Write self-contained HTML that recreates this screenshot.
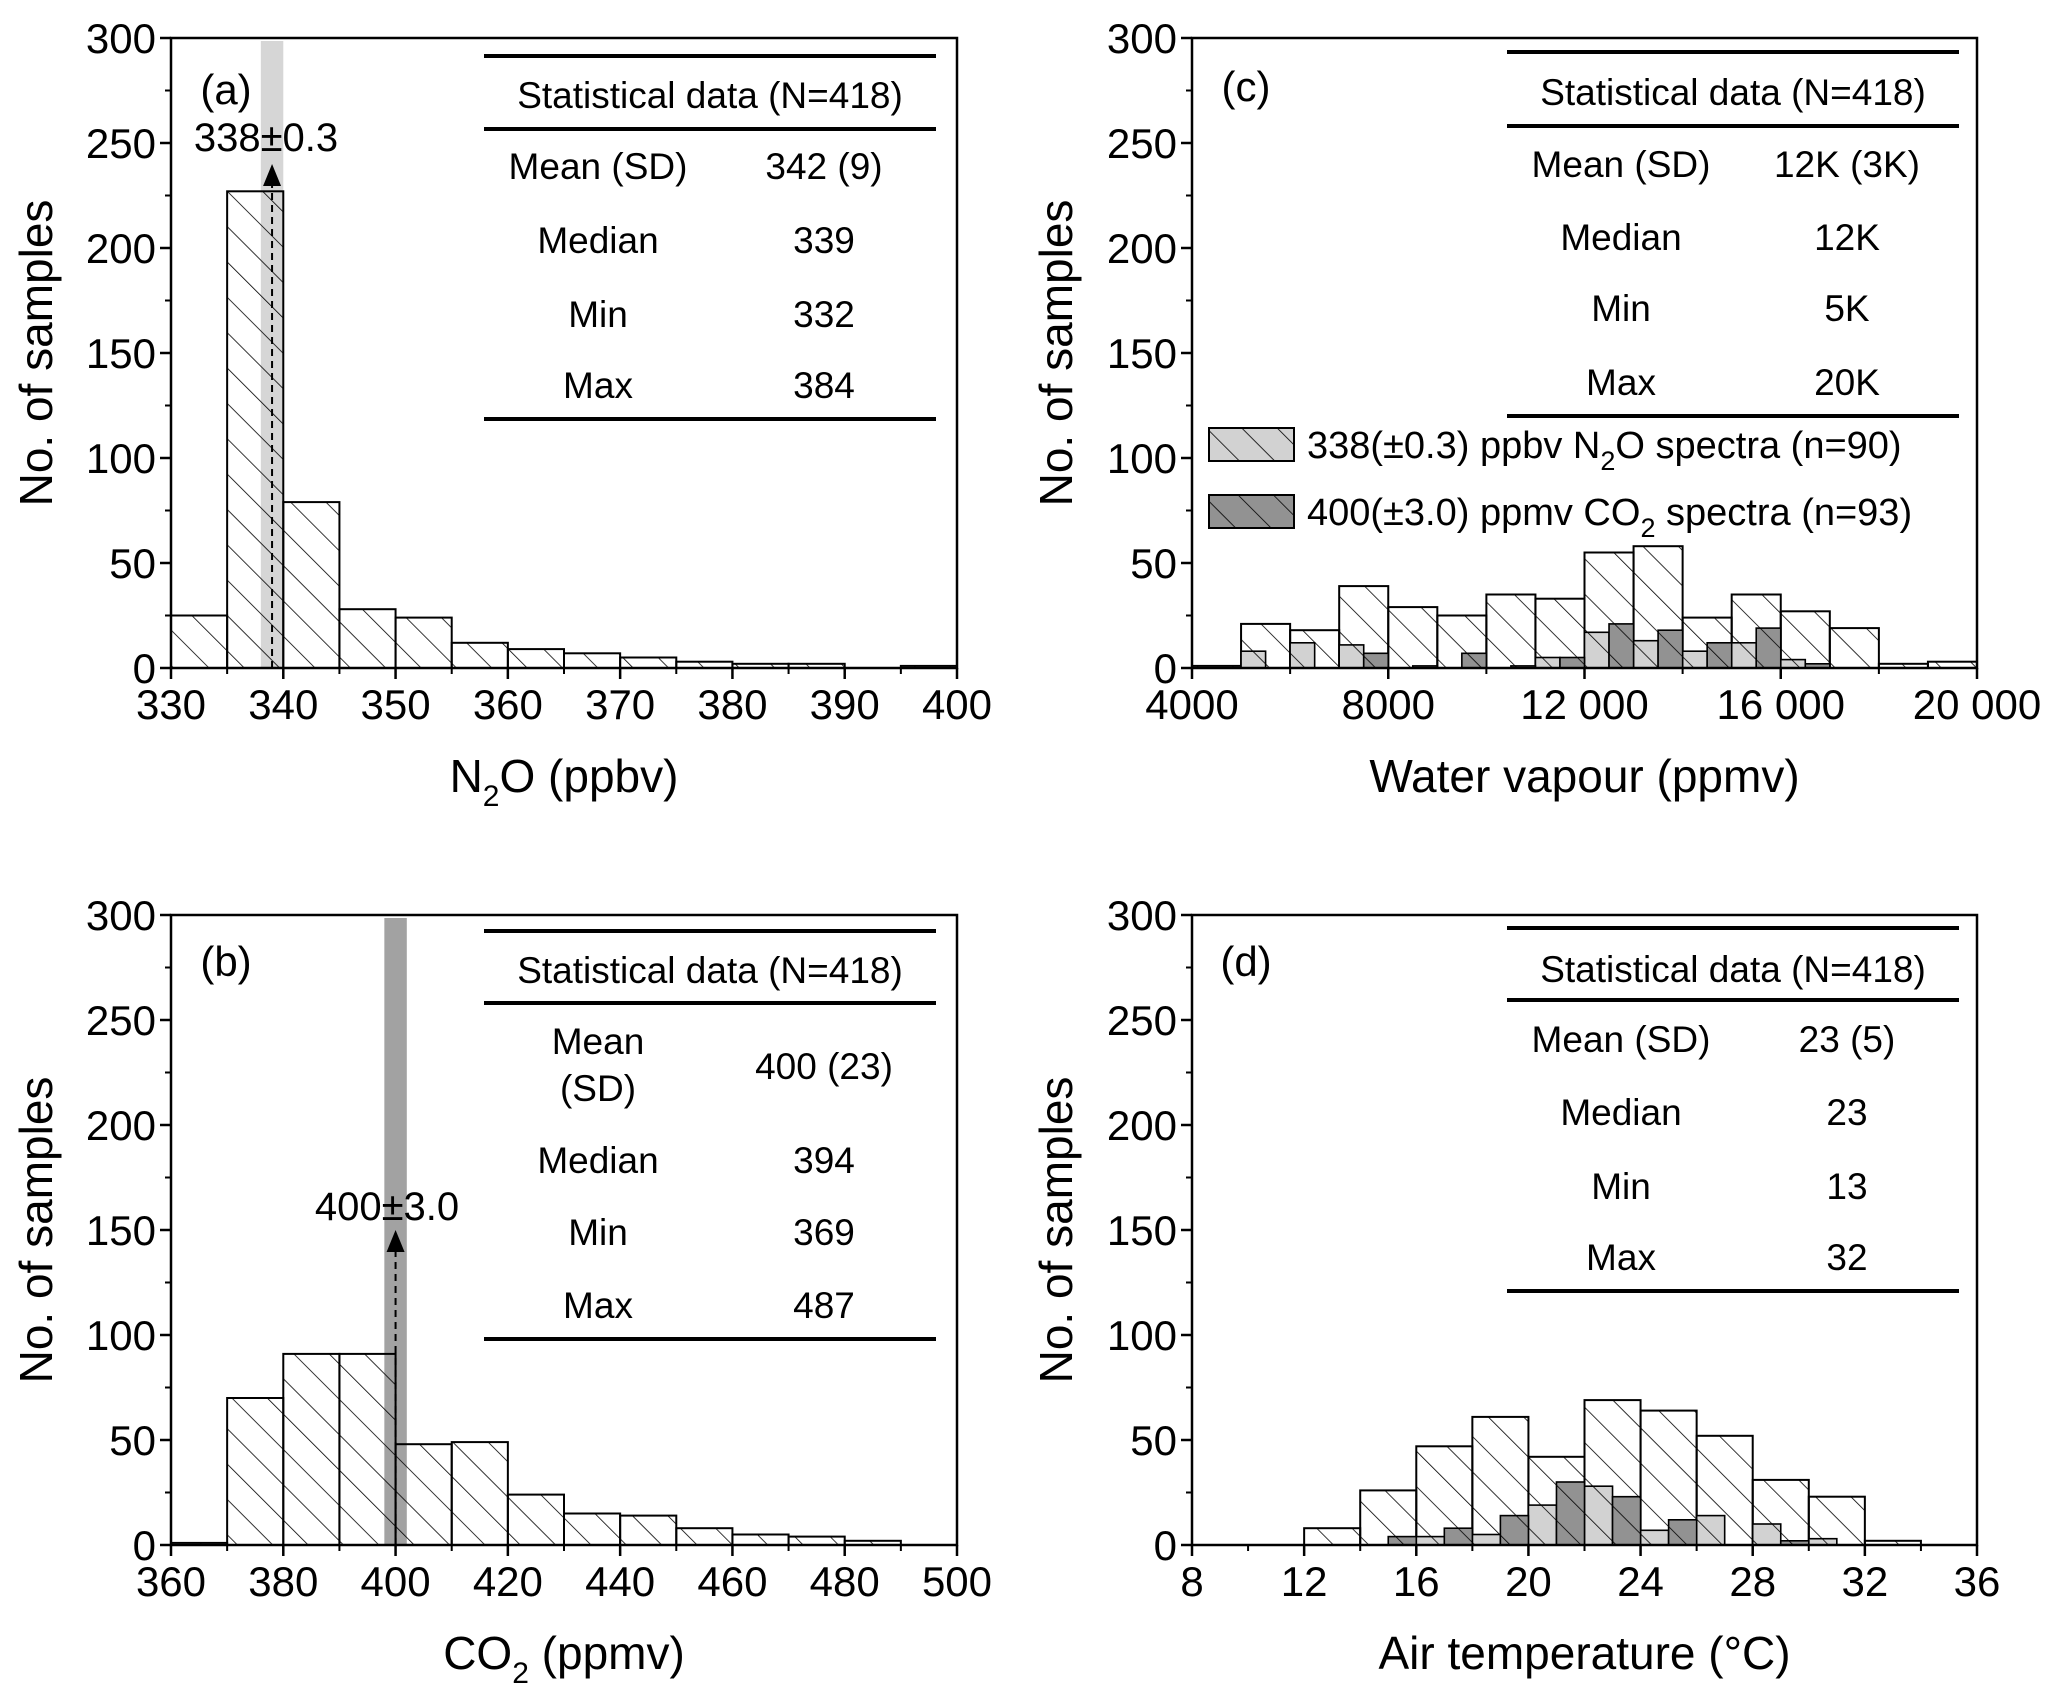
<!DOCTYPE html>
<html><head><meta charset="utf-8">
<style>
html,body{margin:0;padding:0;background:#fff;}
svg{display:block;font-family:"Liberation Sans",Arial,sans-serif;}
</style></head>
<body>
<svg id="fig" width="2067" height="1703" viewBox="0 0 2067 1703" xmlns="http://www.w3.org/2000/svg">
<defs>
<pattern id="hatch" patternUnits="userSpaceOnUse" width="25" height="25" patternTransform="rotate(-45)">
<line x1="0" y1="0" x2="0" y2="25" stroke="#000" stroke-width="1.6"/>
</pattern>
</defs>
</svg>
<script>
// ---- Panel (a) N2O ----
const n2oBinStart = 330, n2oBinWidth = 5;
const n2oCounts = [25, 227, 79, 28, 24, 12, 9, 7, 5, 3, 2, 2, 0, 1];
const n2oTicks = [330, 340, 350, 360, 370, 380, 390, 400];
// ---- Panel (b) CO2 ----
const co2BinStart = 360, co2BinWidth = 10;
const co2Counts = [1, 70, 91, 91, 48, 49, 24, 15, 14, 8, 5, 4, 2, 0];
const co2Ticks = [360, 380, 400, 420, 440, 460, 480, 500];
// ---- Panel (c) water vapour ----
const wvBinStart = 4000, wvBinWidth = 1000;
const wvCounts = [1, 21, 18, 39, 29, 25, 35, 33, 55, 58, 24, 35, 27, 19, 2, 3];
const wvN2O = [0, 8, 12, 11, 0, 0, 0, 5, 17, 13, 8, 12, 4, 0, 0, 0];
const wvCO2 = [0, 0, 0, 7, 1, 7, 1, 5, 21, 18, 12, 19, 2, 0, 0, 0];
const wvTicks = [4000, 8000, 12000, 16000, 20000];
const wvTickLabels = ["4000", "8000", "12 000", "16 000", "20 000"];
// ---- Panel (d) air temperature ----
const atBinStart = 8, atBinWidth = 2;
const atCounts = [0, 0, 8, 26, 47, 61, 42, 69, 64, 52, 31, 23, 2, 0];
const atN2O = [0, 0, 0, 0, 4, 5, 19, 28, 7, 14, 10, 3, 0, 0];
const atCO2 = [0, 0, 0, 4, 8, 14, 30, 23, 12, 0, 2, 0, 0, 0];
const atTicks = [8, 12, 16, 20, 24, 28, 32, 36];
const yTicks = [0, 50, 100, 150, 200, 250, 300];

const NS = "http://www.w3.org/2000/svg";
const svg = document.getElementById('fig');
function mk(tag, attrs, parent, text) {
  const e = document.createElementNS(NS, tag);
  for (const k in attrs) e.setAttribute(k, attrs[k]);
  if (text !== undefined) e.textContent = text;
  (parent || svg).appendChild(e);
  return e;
}

function panel(cfg) {
  const g = mk('g', {});
  
  
  const L = cfg.L, R = cfg.R, T = cfg.T, B = cfg.B;
  const xs = v => L + (v - cfg.x0) / (cfg.x1 - cfg.x0) * (R - L);
  const ys = v => B - v / 300 * (B - T);
  if (cfg.band) {
    const b = mk('rect', {x: xs(cfg.band[0]), y: T + 3, width: xs(cfg.band[1]) - xs(cfg.band[0]), height: B - T - 3, fill: cfg.band[2]}, g);
    
    
  }
  cfg.counts.forEach((c, i) => {
    if (c <= 0) return;
    const x = xs(cfg.bs + i * cfg.bw), w = xs(cfg.bs + (i + 1) * cfg.bw) - x;
    const y = ys(c), h = B - y;
    const r = mk('rect', {x: x, y: y, width: w, height: h, fill: 'url(#hatch)', stroke: '#000', 'stroke-width': 2}, g);
    
    
  });
  function sub(arr, off, color, nm) {
    arr.forEach((c, i) => {
      if (c <= 0) return;
      const x = xs(cfg.bs + i * cfg.bw + off), w = xs(cfg.bs + i * cfg.bw + off + cfg.bw / 2) - x;
      const y = ys(c), h = B - y;
      mk('rect', {x: x, y: y, width: w, height: h, fill: color}, g);
      const r = mk('rect', {x: x, y: y, width: w, height: h, fill: 'url(#hatch)', stroke: '#000', 'stroke-width': 1.6}, g);
      
      
    });
  }
  if (cfg.n2o) sub(cfg.n2o, 0, '#d2d2d2', 'n2o-subset');
  if (cfg.co2) sub(cfg.co2, cfg.bw / 2, '#929292', 'co2-subset');
  if (cfg.arrow) {
    const ax = xs(cfg.arrow[0]), tip = ys(cfg.arrow[1]);
    mk('line', {x1: ax, y1: B, x2: ax, y2: tip + 20, stroke: '#000', 'stroke-width': 2, 'stroke-dasharray': '7,5'}, g);
    mk('polygon', {points: `${ax},${tip} ${ax - 9},${tip + 22} ${ax + 9},${tip + 22}`, fill: '#000'}, g);
    const t = mk('text', {x: cfg.arrow[2], y: cfg.arrow[3], 'font-size': 40, 'text-anchor': 'middle'}, g, cfg.arrow[4]);
    
    
  }
  mk('rect', {x: L, y: T, width: R - L, height: B - T, fill: 'none', stroke: '#000', 'stroke-width': 2.5}, g);
  yTicks.forEach(v => {
    mk('line', {x1: L - 11, y1: ys(v), x2: L, y2: ys(v), stroke: '#000', 'stroke-width': 2.5}, g);
    if (v < 300) mk('line', {x1: L - 6, y1: ys(v + 25), x2: L, y2: ys(v + 25), stroke: '#000', 'stroke-width': 2}, g);
    const t = mk('text', {x: L - 15, y: ys(v) + 15, 'font-size': 42, 'text-anchor': 'end'}, g, String(v));
    
    
  });
  const step = cfg.ticks[1] - cfg.ticks[0];
  cfg.ticks.forEach((v, i) => {
    mk('line', {x1: xs(v), y1: B, x2: xs(v), y2: B + 11, stroke: '#000', 'stroke-width': 2.5}, g);
    if (i < cfg.ticks.length - 1) mk('line', {x1: xs(v + step / 2), y1: B, x2: xs(v + step / 2), y2: B + 6, stroke: '#000', 'stroke-width': 2}, g);
    const t = mk('text', {x: xs(v), y: B + 51, 'font-size': 42, 'text-anchor': 'middle'}, g, cfg.tickLabels ? cfg.tickLabels[i] : String(v));
    
    
  });
  const pl = mk('text', {x: cfg.label[1], y: cfg.label[2], 'font-size': 42, 'text-anchor': 'middle'}, g, cfg.label[0]);
  
  
  const yt = mk('text', {x: 0, y: 0, 'font-size': 46, 'text-anchor': 'middle', transform: `translate(${cfg.ytx},${(T + B) / 2}) rotate(-90)`}, g, 'No. of samples');
  
  
  const xt = mk('text', {x: (L + R) / 2, y: B + 124, 'font-size': 46, 'text-anchor': 'middle'}, g);
  
  
  cfg.xtitle.forEach(p => {
    mk('tspan', p[1] ? {'font-size': 30, dy: 14} : (p[2] ? {dy: -14} : {}), xt, p[0]);
  });
  const tb = mk('g', {}, g);
  
  
  const tl = cfg.table;
  [tl.l1, tl.l2, tl.l3].forEach(yy => mk('line', {x1: tl.x1, y1: yy, x2: tl.x2, y2: yy, stroke: '#000', 'stroke-width': 4}, tb));
  mk('text', {x: (tl.x1 + tl.x2) / 2, y: tl.hy + 13, 'font-size': 37, 'text-anchor': 'middle'}, tb, 'Statistical data (N=418)');
  tl.rows.forEach(r => {
    if (Array.isArray(r[0])) {
      mk('text', {x: tl.c1, y: r[0][1] + 13, 'font-size': 37, 'text-anchor': 'middle'}, tb, r[0][0]);
      mk('text', {x: tl.c1, y: r[0][3] + 13, 'font-size': 37, 'text-anchor': 'middle'}, tb, r[0][2]);
      mk('text', {x: tl.c2, y: r[2] + 13, 'font-size': 37, 'text-anchor': 'middle'}, tb, r[1]);
    } else {
      mk('text', {x: tl.c1, y: r[2] + 13, 'font-size': 37, 'text-anchor': 'middle'}, tb, r[0]);
      mk('text', {x: tl.c2, y: r[2] + 13, 'font-size': 37, 'text-anchor': 'middle'}, tb, r[1]);
    }
  });
}

panel({name: 'panel-a-n2o', L: 171, R: 957, T: 38, B: 668, x0: 330, x1: 400, bs: n2oBinStart, bw: n2oBinWidth,
  counts: n2oCounts, ticks: n2oTicks, band: [338, 340, '#d6d6d6'], arrow: [339, 240, 266, 151, '338±0.3'],
  label: ['(a)', 226, 104], ytx: 52, xtitle: [['N'], ['2', true], ['O (ppbv)', false, true]],
  table: {x1: 484, x2: 936, l1: 56, l2: 129, l3: 419, hy: 95, c1: 598, c2: 824,
    rows: [['Mean (SD)', '342 (9)', 166], ['Median', '339', 240], ['Min', '332', 314], ['Max', '384', 385]]}});

panel({name: 'panel-b-co2', L: 171, R: 957, T: 915, B: 1545, x0: 360, x1: 500, bs: co2BinStart, bw: co2BinWidth,
  counts: co2Counts, ticks: co2Ticks, band: [398, 402, '#a2a2a2'], arrow: [400, 150, 387, 1220, '400±3.0'],
  label: ['(b)', 226, 976], ytx: 52, xtitle: [['CO'], ['2', true], [' (ppmv)', false, true]],
  table: {x1: 484, x2: 936, l1: 931, l2: 1003, l3: 1339, hy: 970, c1: 598, c2: 824,
    rows: [[['Mean', 1041, '(SD)', 1088], '400 (23)', 1066], ['Median', '394', 1160], ['Min', '369', 1232], ['Max', '487', 1305]]}});

panel({name: 'panel-c-water-vapour', L: 1192, R: 1977, T: 38, B: 668, x0: 4000, x1: 20000, bs: wvBinStart, bw: wvBinWidth,
  counts: wvCounts, n2o: wvN2O, co2: wvCO2, ticks: wvTicks, tickLabels: wvTickLabels,
  label: ['(c)', 1246, 101], ytx: 1072, xtitle: [['Water vapour (ppmv)']],
  table: {x1: 1507, x2: 1959, l1: 52, l2: 126, l3: 416, hy: 92, c1: 1621, c2: 1847,
    rows: [['Mean (SD)', '12K (3K)', 164], ['Median', '12K', 237], ['Min', '5K', 308], ['Max', '20K', 382]]}});

panel({name: 'panel-d-air-temperature', L: 1192, R: 1977, T: 915, B: 1545, x0: 8, x1: 36, bs: atBinStart, bw: atBinWidth,
  counts: atCounts, n2o: atN2O, co2: atCO2, ticks: atTicks,
  label: ['(d)', 1246, 976], ytx: 1072, xtitle: [['Air temperature (°C)']],
  table: {x1: 1507, x2: 1959, l1: 928, l2: 1000, l3: 1291, hy: 969, c1: 1621, c2: 1847,
    rows: [['Mean (SD)', '23 (5)', 1039], ['Median', '23', 1112], ['Min', '13', 1186], ['Max', '32', 1257]]}});

const lg = mk('g', {});


[['#d2d2d2', 428, '338(±0.3) ppbv N', 'O spectra (n=90)', 'legend-entry-n2o'], ['#929292', 495, '400(±3.0) ppmv CO', ' spectra (n=93)', 'legend-entry-co2']].forEach(e => {
  const eg = mk('g', {}, lg);
  
  
  mk('rect', {x: 1209, y: e[1], width: 85, height: 33, fill: e[0]}, eg);
  mk('rect', {x: 1209, y: e[1], width: 85, height: 33, fill: 'url(#hatch)', stroke: '#000', 'stroke-width': 2}, eg);
  const t = mk('text', {x: 1307, y: e[1] + 30, 'font-size': 38}, eg);
  mk('tspan', {}, t, e[2]);
  mk('tspan', {'font-size': 27, dy: 12}, t, '2');
  mk('tspan', {dy: -12}, t, e[3]);
});
</script>
</body></html>
